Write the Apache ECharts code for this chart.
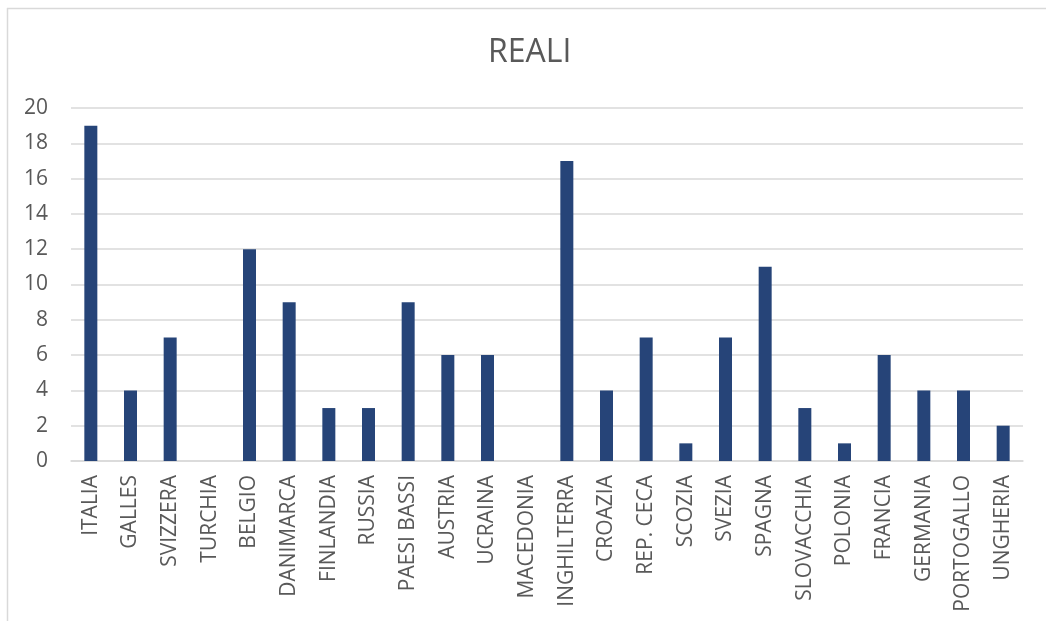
<!DOCTYPE html>
<html>
<head>
<meta charset="utf-8">
<script src="https://cdn.jsdelivr.net/npm/echarts@6/dist/echarts.min.js"></script>
<style>
html,body{margin:0;padding:0;background:#fff;}
#chart{width:1046px;height:621px;}
</style>
</head>
<body>
<div id="chart"></div>
<script>
const categories = ["ITALIA","GALLES","SVIZZERA","TURCHIA","BELGIO","DANIMARCA","FINLANDIA","RUSSIA","PAESI BASSI","AUSTRIA","UCRAINA","MACEDONIA","INGHILTERRA","CROAZIA","REP. CECA","SCOZIA","SVEZIA","SPAGNA","SLOVACCHIA","POLONIA","FRANCIA","GERMANIA","PORTOGALLO","UNGHERIA"];
const values = [19,4,7,0,12,9,3,3,9,6,6,0,17,4,7,1,7,11,3,1,6,4,4,2];
const titleText = "REALI";

const chart = echarts.init(document.getElementById('chart'), null, {renderer:'canvas'});
chart.setOption({
  backgroundColor:'#fff',
  animation:false,
  title:{
    text:titleText, left:483, top:32,
    textStyle:{fontFamily:'Open Sans', fontWeight:'normal', fontSize:32, color:'#595959'}
  },
  graphic:[
    {type:'line', shape:{x1:7, y1:8.5, x2:1046, y2:8.5}, style:{stroke:'#d9d9d9', lineWidth:1.5}},
    {type:'line', shape:{x1:7.5, y1:8, x2:7.5, y2:621}, style:{stroke:'#d9d9d9', lineWidth:1.5}}
  ],
  grid:{left:71, right:23, top:108, bottom:160, containLabel:false},
  xAxis:{
    type:'category', data:categories,
    axisLine:{lineStyle:{color:'#d9d9d9', width:1.5}},
    axisTick:{show:false},
    axisLabel:{rotate:90, interval:0, margin:14, fontFamily:'Open Sans', fontSize:21, color:'#595959'}
  },
  yAxis:{
    type:'value', min:0, max:20, interval:2,
    axisLine:{show:false}, axisTick:{show:false},
    splitLine:{lineStyle:{color:'#d9d9d9', width:1.5}},
    axisLabel:{margin:23, fontFamily:'Open Sans', fontSize:21, color:'#595959'}
  },
  series:[{
    type:'bar', data:values, barWidth:13,
    itemStyle:{color:'#264478'}
  }]
});
</script>
</body>
</html>
